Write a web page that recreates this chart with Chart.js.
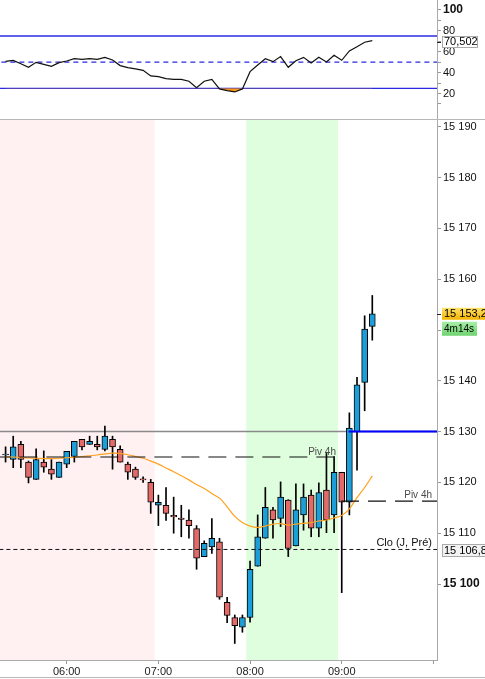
<!DOCTYPE html>
<html lang="fr">
<head>
  <meta charset="UTF-8" />
  <title>Graphique 5 min</title>
  <script src="https://cdn.jsdelivr.net/npm/chart.js"></script>
  <style>
    body {
      margin: 0;
      background: #fff;
      width: 485px;
      height: 679px;
      overflow: hidden;
      position: relative;
    }
    canvas { position: absolute; left: 0; }
    #rsiChart { top: 0; }
    #priceChart { top: 120px; }
    .sep {
      position: absolute;
      left: 0;
      width: 485px;
      height: 1px;
      background: #b8b8b8;
    }
  </style>
</head>
<body>
  <canvas id="rsiChart" width="485" height="119"></canvas>
  <div class="sep" style="top:119px"></div>
  <canvas id="priceChart" width="485" height="559"></canvas>
  <div class="sep" style="top:677px"></div>

  <script>
    // bougies 5 min, de 05:20 à 09:20
    const opens = [
      15125.4, 15124.5, 15127.5, 15124.0, 15120.6, 15124.0, 15122.6, 15121.0, 15123.6, 15125.1,
      15128.5, 15127.5, 15127.5, 15126.5, 15128.5, 15126.5, 15123.6, 15122.6, 15120.7, 15120.0,
      15115.5, 15115.5, 15113.5, 15113.0, 15112.6, 15110.9, 15105.4, 15107.3, 15108.3, 15096.4,
      15093.4, 15091.5, 15093.4, 15103.5, 15109.0, 15114.6, 15112.9, 15116.5, 15107.5, 15113.6,
      15117.5, 15111.0, 15118.5, 15113.6, 15122.0, 15116.1, 15130.0, 15139.7, 15150.7
    ];
    const highs = [
      15127.0, 15129.1, 15128.1, 15124.2, 15126.6, 15126.2, 15124.5, 15124.0, 15126.1, 15128.1,
      15128.5, 15129.1, 15129.1, 15131.1, 15129.1, 15127.2, 15124.0, 15123.0, 15121.1, 15120.6,
      15117.5, 15119.0, 15117.1, 15115.5, 15114.6, 15111.5, 15108.5, 15112.9, 15109.0, 15097.4,
      15093.9, 15093.9, 15104.5, 15113.6, 15119.0, 15115.1, 15120.1, 15116.6, 15119.7, 15119.7,
      15118.5, 15119.9, 15125.7, 15125.1, 15122.0, 15133.7, 15140.7, 15152.8, 15156.8
    ];
    const lows = [
      15124.0, 15122.9, 15122.9, 15119.9, 15120.6, 15122.0, 15120.6, 15121.0, 15122.9, 15124.0,
      15126.4, 15127.5, 15126.4, 15126.2, 15122.6, 15124.0, 15120.6, 15120.6, 15120.0, 15113.9,
      15111.5, 15112.5, 15110.0, 15109.3, 15109.0, 15102.9, 15105.4, 15106.0, 15097.0, 15092.4,
      15088.3, 15090.5, 15092.5, 15103.5, 15109.0, 15109.0, 15111.3, 15105.4, 15107.5, 15110.6,
      15109.3, 15109.3, 15110.1, 15110.1, 15098.3, 15113.6, 15122.4, 15134.1, 15148.0
    ];
    const closes = [
      15125.6, 15127.0, 15124.5, 15121.0, 15124.5, 15123.0, 15121.6, 15124.0, 15126.1, 15128.1,
      15127.0, 15128.1, 15127.0, 15129.1, 15127.0, 15124.0, 15122.0, 15121.0, 15120.5, 15116.1,
      15116.1, 15113.9, 15113.2, 15112.7, 15111.5, 15105.1, 15108.0, 15109.0, 15097.4, 15093.8,
      15091.8, 15093.4, 15102.9, 15109.3, 15115.1, 15112.6, 15117.1, 15107.0, 15114.6, 15117.1,
      15111.0, 15118.0, 15112.6, 15122.0, 15116.1, 15130.7, 15139.2, 15150.2, 15153.2
    ];
    const movingAvg = [
      15125.0, 15125.0, 15124.9, 15124.8, 15124.75, 15124.7, 15124.7, 15124.75, 15124.85, 15124.95,
      15125.1, 15125.25, 15125.4, 15125.6, 15125.75, 15125.7, 15125.45, 15125.1, 15124.75, 15124.2,
      15123.6, 15122.85, 15122.1, 15121.3, 15120.5, 15119.6, 15118.8, 15117.8, 15116.9, 15115.2,
      15113.3, 15112.1, 15111.4, 15111.15, 15111.4, 15111.8, 15111.9, 15111.6, 15111.8, 15111.95,
      15112.1, 15112.4, 15112.6, 15113.0, 15113.5, 15114.8, 15117.0, 15119.0, 15121.3
    ];
    const rsiValues = [
      50.8, 51.7, 48.5, 45.1, 49.8, 47.9, 46.0, 49.5, 51.1, 53.3,
      52.7, 53.3, 52.7, 54.6, 52.1, 46.7, 44.7, 43.5, 42.2, 36.8,
      36.1, 34.2, 33.6, 33.6, 31.8, 25.6, 31.7, 33.6, 24.4, 22.8,
      21.5, 24.4, 40.9, 47.3, 53.3, 50.5, 55.3, 45.1, 51.4, 54.6,
      49.2, 54.6, 50.2, 56.5, 51.8, 60.7, 64.8, 69.0, 70.5
    ];

    const hourTicks = [8, 20, 32, 44, 56];
    const hourLabels = ["06:00", "07:00", "08:00", "09:00", ""];
    const priceTicks = [15100, 15110, 15120, 15130, 15140, 15150, 15160, 15170, 15180, 15190];
    const rsiTicks = [10, 20, 30, 40, 50, 60, 70, 80, 90, 100];
    const rsiLabelled = [20, 40, 60, 80, 100];
    const rsiLevels = [25, 50, 75];

    const pivLevel1 = 15125, pivLevel2 = 15116.3, cloLevel = 15106.8, hiLevel = 15130;
    const pivSplit = 43.9;      // fin du 1er pivot / début du 2e
    const hiBlueFrom = 44.9;
    const nightSession = [-2, 19.5];
    const openSession = [31.5, 43.5];
    const lastPrice = 15153.2, lastRsi = 70.502, timerText = "4m14s";

    const XMIN = -0.73, XMAX = 56.47;
    const FONT = '"Liberation Sans", Arial, Helvetica, sans-serif';
    Chart.defaults.font.family = FONT;

    const idx = opens.map((_, i) => i);

    function fmt(v, d) {
      const parts = v.toFixed(d).split(".");
      return parts[0].replace(/\B(?=(\d{3})+(?!\d))/g, " ") + (parts[1] ? "," + parts[1] : "");
    }

    function levelLine(value, from, to, color, width, dash, order) {
      return {
        type: "line",
        data: [{ x: from, y: value }, { x: to, y: value }],
        borderColor: color,
        borderWidth: width,
        borderDash: dash,
        pointRadius: 0,
        order: order
      };
    }

    function tag(ctx, x, yc, w, h, text, font, bg, border) {
      ctx.fillStyle = bg;
      ctx.fillRect(x, yc - h / 2, w, h);
      if (border) {
        ctx.strokeStyle = border;
        ctx.lineWidth = 1;
        ctx.strokeRect(x + 0.5, Math.round(yc - h / 2) + 0.5, w - 1, h - 1);
      }
      ctx.fillStyle = "#000";
      ctx.font = font;
      ctx.textAlign = "left";
      ctx.textBaseline = "middle";
      ctx.fillText(text, x + 2, yc + 0.5);
    }

    function axisTick(ctx, x, y) {
      ctx.strokeStyle = "#222";
      ctx.lineWidth = 1;
      ctx.beginPath();
      ctx.moveTo(x, Math.round(y) + 0.5);
      ctx.lineTo(x + 4, Math.round(y) + 0.5);
      ctx.stroke();
    }

    const sideAxis = (ticks, labelFn, fontFn) => ({
      position: "right",
      afterBuildTicks: s => { s.ticks = ticks.map(v => ({ value: v })); },
      ticks: { callback: labelFn, font: fontFn, color: "#111", padding: 2, autoSkip: false },
      grid: { drawOnChartArea: false, tickLength: 4, color: "#999" },
      border: { display: true, color: "#aaa" },
      afterFit: s => { s.width = 48; s.paddingTop = 0; s.paddingBottom = 0; }
    });

    // ---------- RSI ----------
    const rsiTagPlugin = {
      id: "rsiTag",
      afterDraw(chart) {
        const { ctx, scales: { y }, chartArea } = chart;
        const py = y.getPixelForValue(lastRsi) + 1;
        ctx.save();
        axisTick(ctx, chartArea.right, py);
        tag(ctx, 442, py, 36, 12, fmt(lastRsi, 3), "11px " + FONT, "#fff", "#aaa");
        ctx.restore();
      }
    };

    new Chart(document.getElementById("rsiChart"), {
      type: "line",
      data: {
        datasets: [
          ...rsiLevels.map(v => levelLine(v, XMIN - 1, XMAX + 1, "#2a2ae2", 1.3, v === 50 ? [5, 4] : [], 1)),
          {
            data: idx.map(i => ({ x: i, y: rsiValues[i] })),
            borderColor: "#111",
            borderWidth: 1.2,
            pointRadius: 0,
            tension: 0,
            fill: { target: { value: 25 }, above: "rgba(0,0,0,0)", below: "#ff9a10" },
            order: 0
          }
        ]
      },
      options: {
        responsive: false,
        animation: false,
        events: [],
        layout: { padding: 0 },
        plugins: { legend: { display: false }, tooltip: { enabled: false } },
        scales: {
          x: { type: "linear", min: XMIN, max: XMAX, display: false },
          y: Object.assign(
            { type: "linear", min: -4.35, max: 109.42 },
            sideAxis(
              rsiTicks,
              v => (rsiLabelled.includes(v) ? String(v) : ""),
              c => (c.tick && c.tick.value === 100 ? { size: 12, weight: "bold" } : { size: 11 })
            )
          )
        }
      },
      plugins: [rsiTagPlugin]
    });

    // ---------- Prix ----------
    const shadePlugin = {
      id: "sessions",
      beforeDatasetsDraw(chart) {
        const { ctx, chartArea: a, scales: { x } } = chart;
        const band = (r, color) => {
          const x0 = Math.max(a.left, x.getPixelForValue(r[0]));
          const x1 = Math.min(a.right, x.getPixelForValue(r[1]));
          ctx.fillStyle = color;
          ctx.fillRect(x0, a.top, x1 - x0, a.bottom - a.top);
        };
        ctx.save();
        band(nightSession, "#fff1f2");
        band(openSession, "#defedd");
        ctx.restore();
      }
    };

    const labelsPlugin = {
      id: "levelLabels",
      afterDatasetsDraw(chart) {
        const { ctx, chartArea: a, scales: { x, y } } = chart;
        ctx.save();
        ctx.textAlign = "right";
        ctx.textBaseline = "alphabetic";
        ctx.font = "10px " + FONT;
        ctx.fillStyle = "#4a4a4a";
        ctx.fillText("Piv 4h", x.getPixelForValue(pivSplit) - 5, y.getPixelForValue(pivLevel1) - 2.5);
        ctx.fillText("Piv 4h", a.right - 5, y.getPixelForValue(pivLevel2) - 3);
        ctx.font = "11px " + FONT;
        ctx.fillStyle = "#111";
        ctx.fillText("Clo (J, Pré)", a.right - 5, y.getPixelForValue(cloLevel) - 3);
        ctx.restore();
      },
      afterDraw(chart) {
        const { ctx, chartArea: a, scales: { y } } = chart;
        ctx.save();
        const pl = y.getPixelForValue(lastPrice);
        axisTick(ctx, a.right, pl);
        let g = ctx.createLinearGradient(0, pl - 6, 0, pl + 6);
        g.addColorStop(0, "#ffe36a");
        g.addColorStop(1, "#f4b400");
        tag(ctx, 442, pl, 43, 12, fmt(lastPrice, 1), "11px " + FONT, g, null);
        g = ctx.createLinearGradient(0, pl + 8, 0, pl + 22);
        g.addColorStop(0, "#a6eea6");
        g.addColorStop(1, "#6fd36f");
        tag(ctx, 442, pl + 15, 35, 14, timerText, "10px " + FONT, g, null);
        const pc = y.getPixelForValue(cloLevel) + 1;
        tag(ctx, 442, pc, 44, 13, fmt(cloLevel, 1), "11px " + FONT, "#f3f3f3", "#aaa");
        ctx.restore();
      }
    };

    const bodyColors = idx.map(i => (closes[i] >= opens[i] ? "#1c9fd9" : "#e46a6a"));

    new Chart(document.getElementById("priceChart"), {
      type: "bar",
      data: {
        datasets: [
          levelLine(hiLevel, hiBlueFrom, XMAX + 1, "#0000ff", 2, [], 0),
          levelLine(pivLevel1, XMIN - 1, pivSplit, "#111", 1.2, [18, 9], 0),
          levelLine(pivLevel2, pivSplit, XMAX + 1, "#111", 1.2, [18, 9], 0),
          levelLine(cloLevel, XMIN - 1, XMAX + 1, "#111", 1, [4, 3], 0),
          {
            type: "line",
            data: idx.map(i => ({ x: i, y: movingAvg[i] })),
            borderColor: "#ffa11f",
            borderWidth: 1.2,
            pointRadius: 0,
            tension: 0.3,
            order: 1
          },
          levelLine(hiLevel, XMIN - 1, XMAX + 1, "#8a8a8a", 1.5, [], 4),
          {
            type: "bar",
            data: idx.map(i => ({ x: i, y: [opens[i], closes[i]] })),
            backgroundColor: bodyColors,
            borderColor: "#000",
            borderWidth: 1,
            borderSkipped: false,
            barThickness: 6,
            grouped: false,
            order: 2
          },
          {
            type: "bar",
            data: idx.map(i => ({ x: i, y: [lows[i], highs[i]] })),
            backgroundColor: "#000",
            borderWidth: 0,
            barThickness: 1,
            grouped: false,
            order: 3
          }
        ]
      },
      options: {
        responsive: false,
        animation: false,
        events: [],
        layout: { padding: 0 },
        plugins: { legend: { display: false }, tooltip: { enabled: false } },
        scales: {
          x: {
            type: "linear",
            min: XMIN,
            max: XMAX,
            offset: false,
            afterBuildTicks: s => { s.ticks = hourTicks.map(v => ({ value: v })); },
            ticks: {
              callback: v => hourLabels[hourTicks.indexOf(v)],
              font: { size: 11 },
              color: "#222",
              padding: 1,
              maxRotation: 0,
              autoSkip: false
            },
            grid: { drawOnChartArea: false, offset: false, tickLength: 4, color: "#999" },
            border: { display: true, color: "#aaa" },
            afterFit: s => { s.height = 19; s.paddingLeft = 0; s.paddingRight = 0; }
          },
          y: Object.assign(
            { type: "linear", min: 15085.04, max: 15191.34, beginAtZero: false },
            sideAxis(
              priceTicks,
              v => fmt(v, 0),
              c => (c.tick && c.tick.value === 15100 ? { size: 12, weight: "bold" } : { size: 11 })
            )
          )
        }
      },
      plugins: [shadePlugin, labelsPlugin]
    });
  </script>
</body>
</html>
